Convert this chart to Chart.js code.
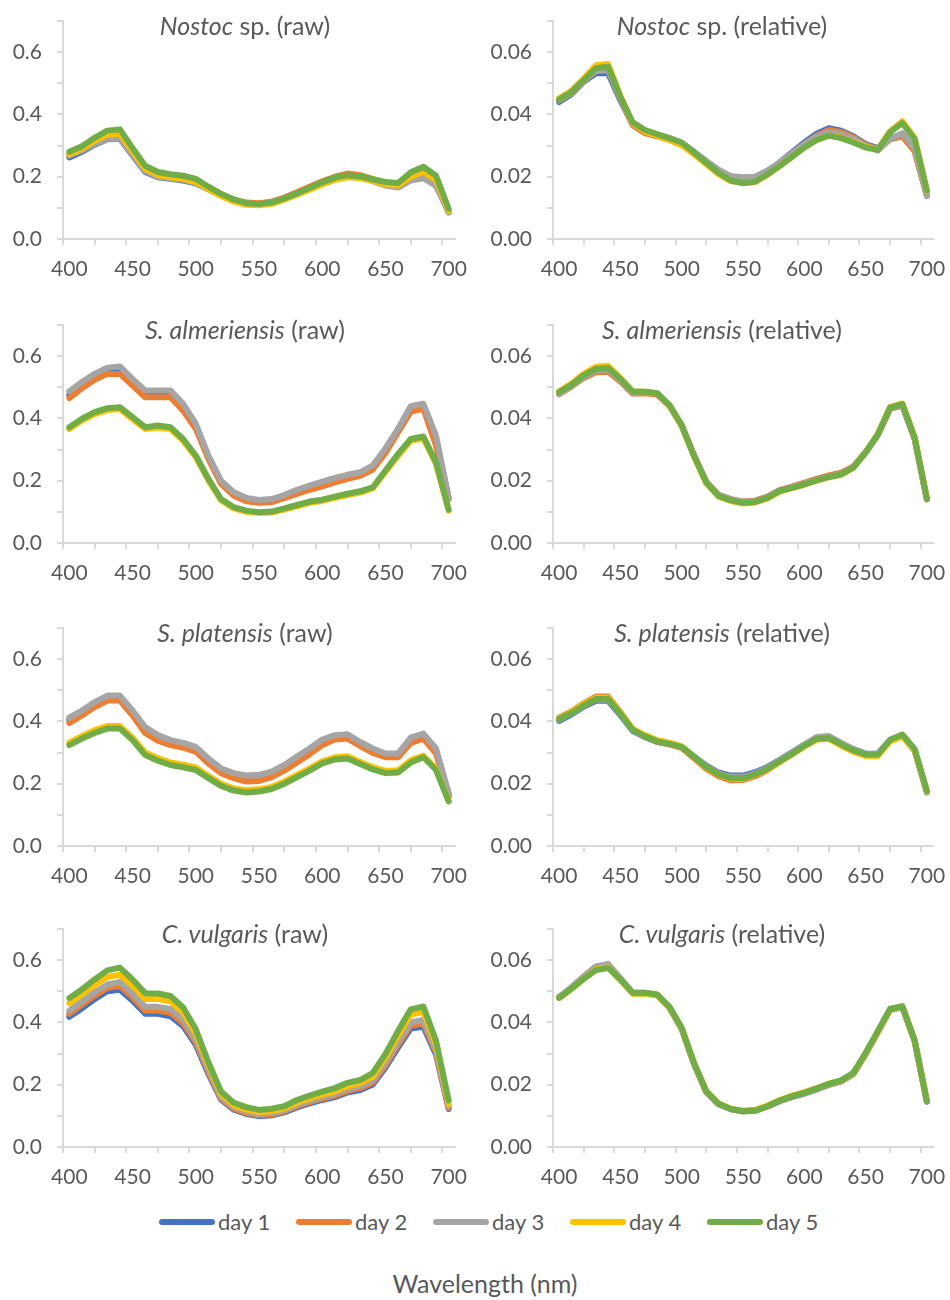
<!DOCTYPE html>
<html lang="en">
<head>
<meta charset="UTF-8">
<title>Absorbance spectra</title>
<script src="https://cdn.jsdelivr.net/npm/chart.js"></script>
<style>
  body { margin: 0; background: #fff; font-family: Lato, sans-serif; color: #595959; }
  #page { position: relative; width: 950px; height: 1300px; overflow: hidden; }
  .panel { position: absolute; }
  .title { position: absolute; font-size: 25px; white-space: nowrap; transform: translate(-50%, -50%); }
  #legend { position: absolute; left: 159px; top: 1208px; display: flex; font-size: 22px; }
  .item { width: 137px; display: flex; align-items: center; }
  .swatch { width: 56px; height: 6px; border-radius: 3px; margin-right: 3px; }
  #xtitle { position: absolute; left: 485px; top: 1283px; transform: translate(-50%, -50%); font-size: 25px; }
</style>
</head>
<body>
<div id="page">
  <div id="legend"></div>
  <div id="xtitle">Wavelength (nm)</div>
</div>
<script>
const wavelengths = [400, 410, 420, 430, 440, 450, 460, 470, 480, 490, 500, 510, 520, 530, 540, 550, 560, 570, 580, 590, 600, 610, 620, 630, 640, 650, 660, 670, 680, 690, 700];
const days = ['day 1', 'day 2', 'day 3', 'day 4', 'day 5'];
const colors = ['#4472C4', '#ED7D31', '#A5A5A5', '#FFC000', '#70AD47'];
// x-axis tick marks sit between categories, labels on the category
const xTicks = [395, 420, 445, 470, 495, 520, 545, 570, 595, 620, 645, 670, 695];
const xLabels = ['400', '', '450', '', '500', '', '550', '', '600', '', '650', '', '700'];

// each array: day 1 .. day 5
const nostocRaw = [
  [0.262, 0.280, 0.303, 0.320, 0.322, 0.268, 0.215, 0.198, 0.193, 0.188, 0.179, 0.160, 0.140, 0.123, 0.113, 0.111, 0.116, 0.129, 0.145, 0.162, 0.178, 0.193, 0.202, 0.198, 0.188, 0.176, 0.170, 0.192, 0.205, 0.178, 0.086],
  [0.270, 0.288, 0.312, 0.330, 0.332, 0.278, 0.222, 0.203, 0.197, 0.192, 0.183, 0.163, 0.143, 0.126, 0.117, 0.115, 0.120, 0.133, 0.150, 0.168, 0.185, 0.200, 0.210, 0.205, 0.192, 0.178, 0.172, 0.195, 0.210, 0.182, 0.088],
  [0.268, 0.284, 0.305, 0.322, 0.322, 0.270, 0.218, 0.200, 0.195, 0.190, 0.180, 0.160, 0.140, 0.123, 0.113, 0.112, 0.117, 0.130, 0.146, 0.162, 0.178, 0.192, 0.200, 0.197, 0.186, 0.172, 0.165, 0.188, 0.195, 0.170, 0.085],
  [0.272, 0.290, 0.315, 0.335, 0.338, 0.282, 0.225, 0.205, 0.198, 0.193, 0.183, 0.160, 0.138, 0.120, 0.110, 0.108, 0.113, 0.126, 0.142, 0.158, 0.175, 0.190, 0.198, 0.196, 0.187, 0.176, 0.172, 0.200, 0.215, 0.190, 0.090],
  [0.280, 0.298, 0.325, 0.348, 0.352, 0.292, 0.235, 0.215, 0.208, 0.203, 0.193, 0.168, 0.145, 0.127, 0.115, 0.112, 0.117, 0.130, 0.146, 0.164, 0.182, 0.197, 0.205, 0.201, 0.192, 0.183, 0.180, 0.214, 0.232, 0.203, 0.097]
];
const nostocRel = [
  [0.0440, 0.0465, 0.0505, 0.0532, 0.0532, 0.0445, 0.0368, 0.0345, 0.0334, 0.0323, 0.0308, 0.0280, 0.0250, 0.0222, 0.0200, 0.0193, 0.0196, 0.0218, 0.0246, 0.0278, 0.0310, 0.0338, 0.0356, 0.0348, 0.0330, 0.0305, 0.0292, 0.0325, 0.0335, 0.0285, 0.0140],
  [0.0445, 0.0468, 0.0507, 0.0540, 0.0543, 0.0450, 0.0365, 0.0340, 0.0330, 0.0318, 0.0302, 0.0275, 0.0245, 0.0217, 0.0196, 0.0190, 0.0193, 0.0216, 0.0244, 0.0274, 0.0305, 0.0332, 0.0350, 0.0344, 0.0327, 0.0302, 0.0288, 0.0320, 0.0330, 0.0282, 0.0138],
  [0.0446, 0.0470, 0.0508, 0.0540, 0.0542, 0.0452, 0.0370, 0.0345, 0.0334, 0.0322, 0.0308, 0.0280, 0.0250, 0.0222, 0.0202, 0.0198, 0.0200, 0.0220, 0.0246, 0.0275, 0.0305, 0.0330, 0.0343, 0.0338, 0.0322, 0.0300, 0.0284, 0.0322, 0.0340, 0.0290, 0.0140],
  [0.0452, 0.0476, 0.0515, 0.0558, 0.0562, 0.0460, 0.0372, 0.0345, 0.0332, 0.0318, 0.0302, 0.0272, 0.0240, 0.0208, 0.0186, 0.0179, 0.0183, 0.0206, 0.0234, 0.0264, 0.0294, 0.0318, 0.0332, 0.0325, 0.0312, 0.0296, 0.0288, 0.0346, 0.0378, 0.0325, 0.0155],
  [0.0448, 0.0472, 0.0510, 0.0548, 0.0553, 0.0456, 0.0375, 0.0350, 0.0337, 0.0324, 0.0310, 0.0278, 0.0245, 0.0213, 0.0188, 0.0180, 0.0184, 0.0208, 0.0235, 0.0264, 0.0294, 0.0318, 0.0332, 0.0324, 0.0310, 0.0294, 0.0286, 0.0343, 0.0372, 0.0321, 0.0156]
];
const almeriensisRaw = [
  [0.475, 0.507, 0.535, 0.553, 0.555, 0.516, 0.478, 0.478, 0.478, 0.436, 0.375, 0.276, 0.195, 0.157, 0.139, 0.133, 0.136, 0.149, 0.165, 0.178, 0.190, 0.202, 0.212, 0.221, 0.242, 0.296, 0.361, 0.430, 0.438, 0.330, 0.143],
  [0.465, 0.497, 0.524, 0.543, 0.543, 0.506, 0.468, 0.468, 0.468, 0.425, 0.367, 0.270, 0.190, 0.152, 0.134, 0.129, 0.131, 0.144, 0.158, 0.171, 0.182, 0.195, 0.206, 0.216, 0.236, 0.289, 0.356, 0.422, 0.431, 0.313, 0.141],
  [0.487, 0.517, 0.543, 0.563, 0.567, 0.527, 0.490, 0.490, 0.490, 0.447, 0.383, 0.281, 0.200, 0.163, 0.145, 0.138, 0.141, 0.154, 0.171, 0.184, 0.197, 0.209, 0.219, 0.227, 0.249, 0.304, 0.367, 0.439, 0.447, 0.345, 0.145],
  [0.366, 0.393, 0.414, 0.427, 0.430, 0.398, 0.366, 0.371, 0.366, 0.328, 0.276, 0.201, 0.137, 0.111, 0.100, 0.096, 0.098, 0.107, 0.118, 0.129, 0.135, 0.145, 0.154, 0.162, 0.175, 0.228, 0.280, 0.328, 0.336, 0.254, 0.104],
  [0.372, 0.399, 0.420, 0.433, 0.436, 0.404, 0.372, 0.377, 0.372, 0.334, 0.281, 0.206, 0.141, 0.115, 0.104, 0.099, 0.101, 0.111, 0.122, 0.133, 0.139, 0.149, 0.158, 0.166, 0.179, 0.233, 0.286, 0.334, 0.342, 0.259, 0.107]
];
const almeriensisRel = [
  [0.0480, 0.0504, 0.0532, 0.0552, 0.0554, 0.0520, 0.0482, 0.0483, 0.0479, 0.0441, 0.0377, 0.0281, 0.0196, 0.0154, 0.0140, 0.0132, 0.0135, 0.0148, 0.0170, 0.0180, 0.0192, 0.0204, 0.0214, 0.0222, 0.0243, 0.0290, 0.0347, 0.0432, 0.0442, 0.0335, 0.0140],
  [0.0478, 0.0502, 0.0530, 0.0548, 0.0550, 0.0518, 0.0480, 0.0481, 0.0477, 0.0440, 0.0377, 0.0282, 0.0197, 0.0155, 0.0141, 0.0133, 0.0136, 0.0149, 0.0170, 0.0181, 0.0193, 0.0206, 0.0217, 0.0226, 0.0246, 0.0292, 0.0348, 0.0431, 0.0441, 0.0334, 0.0140],
  [0.0479, 0.0504, 0.0533, 0.0554, 0.0557, 0.0522, 0.0483, 0.0484, 0.0480, 0.0442, 0.0378, 0.0282, 0.0196, 0.0154, 0.0140, 0.0132, 0.0134, 0.0147, 0.0168, 0.0179, 0.0190, 0.0203, 0.0214, 0.0222, 0.0244, 0.0291, 0.0348, 0.0433, 0.0443, 0.0337, 0.0141],
  [0.0487, 0.0512, 0.0543, 0.0566, 0.0569, 0.0530, 0.0487, 0.0486, 0.0481, 0.0442, 0.0376, 0.0278, 0.0192, 0.0149, 0.0135, 0.0127, 0.0130, 0.0143, 0.0165, 0.0176, 0.0187, 0.0200, 0.0211, 0.0219, 0.0241, 0.0290, 0.0350, 0.0437, 0.0448, 0.0341, 0.0143],
  [0.0484, 0.0508, 0.0538, 0.0559, 0.0562, 0.0527, 0.0486, 0.0486, 0.0481, 0.0443, 0.0378, 0.0280, 0.0194, 0.0151, 0.0137, 0.0129, 0.0132, 0.0145, 0.0167, 0.0177, 0.0188, 0.0201, 0.0212, 0.0220, 0.0242, 0.0290, 0.0349, 0.0435, 0.0446, 0.0339, 0.0142]
];
const platensisRaw = [
  [0.405, 0.428, 0.455, 0.476, 0.476, 0.429, 0.376, 0.350, 0.335, 0.326, 0.313, 0.278, 0.247, 0.232, 0.225, 0.227, 0.237, 0.257, 0.283, 0.308, 0.336, 0.350, 0.352, 0.327, 0.306, 0.290, 0.290, 0.339, 0.352, 0.305, 0.166],
  [0.395, 0.419, 0.446, 0.467, 0.467, 0.419, 0.363, 0.338, 0.324, 0.316, 0.303, 0.265, 0.234, 0.218, 0.207, 0.209, 0.221, 0.242, 0.268, 0.295, 0.324, 0.342, 0.345, 0.321, 0.299, 0.285, 0.285, 0.331, 0.345, 0.297, 0.159],
  [0.412, 0.435, 0.462, 0.483, 0.483, 0.435, 0.382, 0.356, 0.340, 0.331, 0.318, 0.281, 0.249, 0.234, 0.226, 0.228, 0.239, 0.260, 0.287, 0.313, 0.342, 0.356, 0.359, 0.334, 0.313, 0.297, 0.297, 0.348, 0.361, 0.313, 0.170],
  [0.332, 0.353, 0.372, 0.385, 0.385, 0.348, 0.300, 0.282, 0.268, 0.261, 0.252, 0.225, 0.200, 0.185, 0.179, 0.182, 0.190, 0.207, 0.228, 0.249, 0.272, 0.285, 0.288, 0.270, 0.253, 0.241, 0.243, 0.275, 0.290, 0.248, 0.145],
  [0.324, 0.345, 0.363, 0.377, 0.377, 0.340, 0.292, 0.274, 0.260, 0.253, 0.244, 0.218, 0.193, 0.178, 0.172, 0.175, 0.183, 0.200, 0.221, 0.242, 0.265, 0.278, 0.281, 0.263, 0.246, 0.234, 0.236, 0.268, 0.285, 0.244, 0.143]
];
const platensisRel = [
  [0.0402, 0.0422, 0.0447, 0.0466, 0.0466, 0.0420, 0.0370, 0.0350, 0.0334, 0.0327, 0.0318, 0.0288, 0.0258, 0.0236, 0.0226, 0.0226, 0.0237, 0.0254, 0.0277, 0.0301, 0.0325, 0.0347, 0.0351, 0.0330, 0.0311, 0.0297, 0.0296, 0.0340, 0.0354, 0.0306, 0.0172],
  [0.0412, 0.0432, 0.0458, 0.0480, 0.0480, 0.0430, 0.0375, 0.0352, 0.0335, 0.0326, 0.0315, 0.0282, 0.0248, 0.0224, 0.0211, 0.0212, 0.0224, 0.0244, 0.0270, 0.0296, 0.0323, 0.0348, 0.0352, 0.0330, 0.0309, 0.0295, 0.0294, 0.0338, 0.0354, 0.0308, 0.0175],
  [0.0406, 0.0425, 0.0450, 0.0470, 0.0470, 0.0423, 0.0372, 0.0352, 0.0336, 0.0328, 0.0318, 0.0287, 0.0256, 0.0233, 0.0222, 0.0222, 0.0233, 0.0251, 0.0275, 0.0299, 0.0324, 0.0350, 0.0353, 0.0331, 0.0310, 0.0296, 0.0295, 0.0339, 0.0355, 0.0308, 0.0174],
  [0.0410, 0.0430, 0.0456, 0.0476, 0.0476, 0.0428, 0.0376, 0.0356, 0.0340, 0.0332, 0.0320, 0.0286, 0.0252, 0.0228, 0.0216, 0.0216, 0.0228, 0.0246, 0.0270, 0.0294, 0.0319, 0.0341, 0.0344, 0.0322, 0.0302, 0.0289, 0.0289, 0.0336, 0.0352, 0.0307, 0.0175],
  [0.0408, 0.0426, 0.0451, 0.0472, 0.0472, 0.0424, 0.0373, 0.0352, 0.0336, 0.0328, 0.0318, 0.0286, 0.0254, 0.0230, 0.0218, 0.0218, 0.0230, 0.0248, 0.0272, 0.0296, 0.0321, 0.0344, 0.0347, 0.0326, 0.0307, 0.0294, 0.0294, 0.0341, 0.0358, 0.0312, 0.0177]
];
const vulgarisRaw = [
  [0.418, 0.445, 0.475, 0.500, 0.505, 0.470, 0.428, 0.428, 0.420, 0.388, 0.328, 0.235, 0.152, 0.120, 0.106, 0.099, 0.102, 0.111, 0.127, 0.140, 0.151, 0.160, 0.175, 0.183, 0.201, 0.255, 0.320, 0.380, 0.386, 0.296, 0.122],
  [0.428, 0.457, 0.486, 0.511, 0.517, 0.481, 0.438, 0.438, 0.431, 0.398, 0.336, 0.241, 0.155, 0.123, 0.109, 0.102, 0.105, 0.114, 0.131, 0.144, 0.155, 0.165, 0.180, 0.189, 0.207, 0.262, 0.329, 0.390, 0.397, 0.303, 0.126],
  [0.438, 0.468, 0.497, 0.522, 0.530, 0.493, 0.450, 0.450, 0.443, 0.410, 0.345, 0.248, 0.160, 0.127, 0.114, 0.106, 0.109, 0.118, 0.135, 0.148, 0.160, 0.170, 0.186, 0.195, 0.214, 0.270, 0.338, 0.400, 0.408, 0.310, 0.130],
  [0.462, 0.490, 0.520, 0.546, 0.553, 0.518, 0.475, 0.475, 0.468, 0.432, 0.365, 0.263, 0.170, 0.134, 0.120, 0.112, 0.115, 0.124, 0.142, 0.156, 0.168, 0.178, 0.195, 0.205, 0.226, 0.286, 0.358, 0.425, 0.434, 0.328, 0.138],
  [0.478, 0.506, 0.538, 0.567, 0.576, 0.538, 0.494, 0.493, 0.485, 0.448, 0.378, 0.272, 0.178, 0.142, 0.128, 0.119, 0.123, 0.131, 0.151, 0.165, 0.178, 0.189, 0.206, 0.215, 0.238, 0.299, 0.373, 0.442, 0.451, 0.341, 0.149]
];
const vulgarisRel = [
  [0.0480, 0.0510, 0.0545, 0.0574, 0.0580, 0.0540, 0.0494, 0.0494, 0.0488, 0.0448, 0.0380, 0.0268, 0.0178, 0.0138, 0.0122, 0.0116, 0.0118, 0.0131, 0.0148, 0.0161, 0.0172, 0.0186, 0.0201, 0.0211, 0.0235, 0.0299, 0.0369, 0.0441, 0.0449, 0.0341, 0.0146],
  [0.0481, 0.0511, 0.0546, 0.0576, 0.0583, 0.0540, 0.0494, 0.0494, 0.0487, 0.0447, 0.0379, 0.0267, 0.0177, 0.0138, 0.0122, 0.0115, 0.0117, 0.0130, 0.0148, 0.0161, 0.0172, 0.0185, 0.0200, 0.0211, 0.0234, 0.0298, 0.0369, 0.0442, 0.0450, 0.0342, 0.0146],
  [0.0482, 0.0513, 0.0548, 0.0580, 0.0588, 0.0542, 0.0496, 0.0495, 0.0488, 0.0447, 0.0378, 0.0266, 0.0176, 0.0137, 0.0121, 0.0114, 0.0116, 0.0130, 0.0147, 0.0160, 0.0171, 0.0184, 0.0199, 0.0210, 0.0233, 0.0297, 0.0368, 0.0440, 0.0448, 0.0340, 0.0146],
  [0.0478, 0.0507, 0.0540, 0.0570, 0.0577, 0.0536, 0.0492, 0.0492, 0.0487, 0.0448, 0.0381, 0.0270, 0.0180, 0.0140, 0.0123, 0.0116, 0.0119, 0.0133, 0.0151, 0.0165, 0.0176, 0.0189, 0.0203, 0.0213, 0.0236, 0.0300, 0.0370, 0.0442, 0.0451, 0.0343, 0.0148],
  [0.0479, 0.0508, 0.0540, 0.0568, 0.0575, 0.0538, 0.0495, 0.0495, 0.0490, 0.0450, 0.0383, 0.0270, 0.0179, 0.0139, 0.0122, 0.0115, 0.0117, 0.0131, 0.0149, 0.0163, 0.0174, 0.0188, 0.0203, 0.0214, 0.0238, 0.0302, 0.0372, 0.0444, 0.0452, 0.0343, 0.0147]
];

const speciesItalic = ['Nostoc', 'S. almeriensis', 'S. platensis', 'C. vulgaris'];
const speciesRest = [' sp.', '', '', ''];
const rawSets = [nostocRaw, almeriensisRaw, platensisRaw, vulgarisRaw];
const relSets = [nostocRel, almeriensisRel, platensisRel, vulgarisRel];

const rowTops = [21, 325, 628, 929];   // y of the axis top
const PLOT_H = 218;
const X_MIN = 395, X_MAX = 705;
const page = document.getElementById('page');
const tickFont = { family: 'Lato', size: 21 };

function addPanel(left, top, yAxisW, padRight, series, relative) {
  const div = document.createElement('div');
  div.className = 'panel';
  div.style.left = left + 'px';
  div.style.top = (top - 5) + 'px';
  const cv = document.createElement('canvas');
  cv.width = 470; cv.height = 5 + PLOT_H + 50;
  div.appendChild(cv);
  page.appendChild(div);

  const plotW = 470 - yAxisW - padRight;
  new Chart(cv, {
    type: 'line',
    data: {
      datasets: series.map((vals, i) => ({
        label: days[i],
        data: vals.map((v, j) => ({ x: wavelengths[j], y: v })),
        borderColor: colors[i],
        backgroundColor: colors[i],
        borderWidth: 6,
        borderJoinStyle: 'round',
        borderCapStyle: 'round',
        pointRadius: 0,
        tension: 0,
        order: 5 - i
      }))
    },
    options: {
      responsive: false,
      animation: false,
      layout: { padding: { top: 5, right: padRight, left: 0, bottom: 0 } },
      plugins: { legend: { display: false }, tooltip: { enabled: false } },
      scales: {
        x: {
          type: 'linear', min: X_MIN, max: X_MAX,
          afterBuildTicks: s => { s.ticks = xTicks.map(v => ({ value: v })); },
          afterFit: s => { s.height = 50; s.paddingLeft = 0; s.paddingRight = 0; },
          border: { color: '#d9d9d9', width: 2 },
          grid: { drawOnChartArea: false, color: '#d9d9d9', lineWidth: 2, tickLength: 6 },
          ticks: {
            autoSkip: false, maxRotation: 0,
            labelOffset: 5 * plotW / (X_MAX - X_MIN),
            padding: 12, color: '#595959', font: tickFont,
            callback: (v, idx) => xLabels[idx]
          }
        },
        y: {
          min: 0, max: relative ? 0.07 : 0.7,
          afterFit: s => { s.width = yAxisW; s.paddingTop = 0; s.paddingBottom = 0; },
          border: { color: '#d9d9d9', width: 2 },
          grid: { drawOnChartArea: false, color: '#d9d9d9', lineWidth: 2, tickLength: 6 },
          ticks: {
            stepSize: relative ? 0.01 : 0.1, includeBounds: false, autoSkip: false,
            padding: 15, color: '#595959', font: tickFont,
            callback: v => {
              const k = Math.round(v * (relative ? 100 : 10));
              if (k % 2 !== 0) return '';
              return relative ? v.toFixed(2) : v.toFixed(1);
            }
          }
        }
      }
    }
  });
}

function addTitle(cx, cy, i, kind) {
  const t = document.createElement('div');
  t.className = 'title';
  t.style.left = cx + 'px';
  t.style.top = cy + 'px';
  t.innerHTML = '<i>' + speciesItalic[i] + '</i>' + speciesRest[i] + ' (' + kind + ')';
  page.appendChild(t);
}

rowTops.forEach((top, i) => {
  addPanel(0, top, 63, 15, rawSets[i], false);
  addPanel(475, top, 78, 12, relSets[i], true);
  addTitle(245, top + 4, i, 'raw');
  addTitle(722, top + 4, i, 'relative');
});

const legend = document.getElementById('legend');
days.forEach((d, i) => {
  const item = document.createElement('div');
  item.className = 'item';
  item.innerHTML = '<span class="swatch" style="background:' + colors[i] + '"></span>' + d;
  legend.appendChild(item);
});
</script>
</body>
</html>
